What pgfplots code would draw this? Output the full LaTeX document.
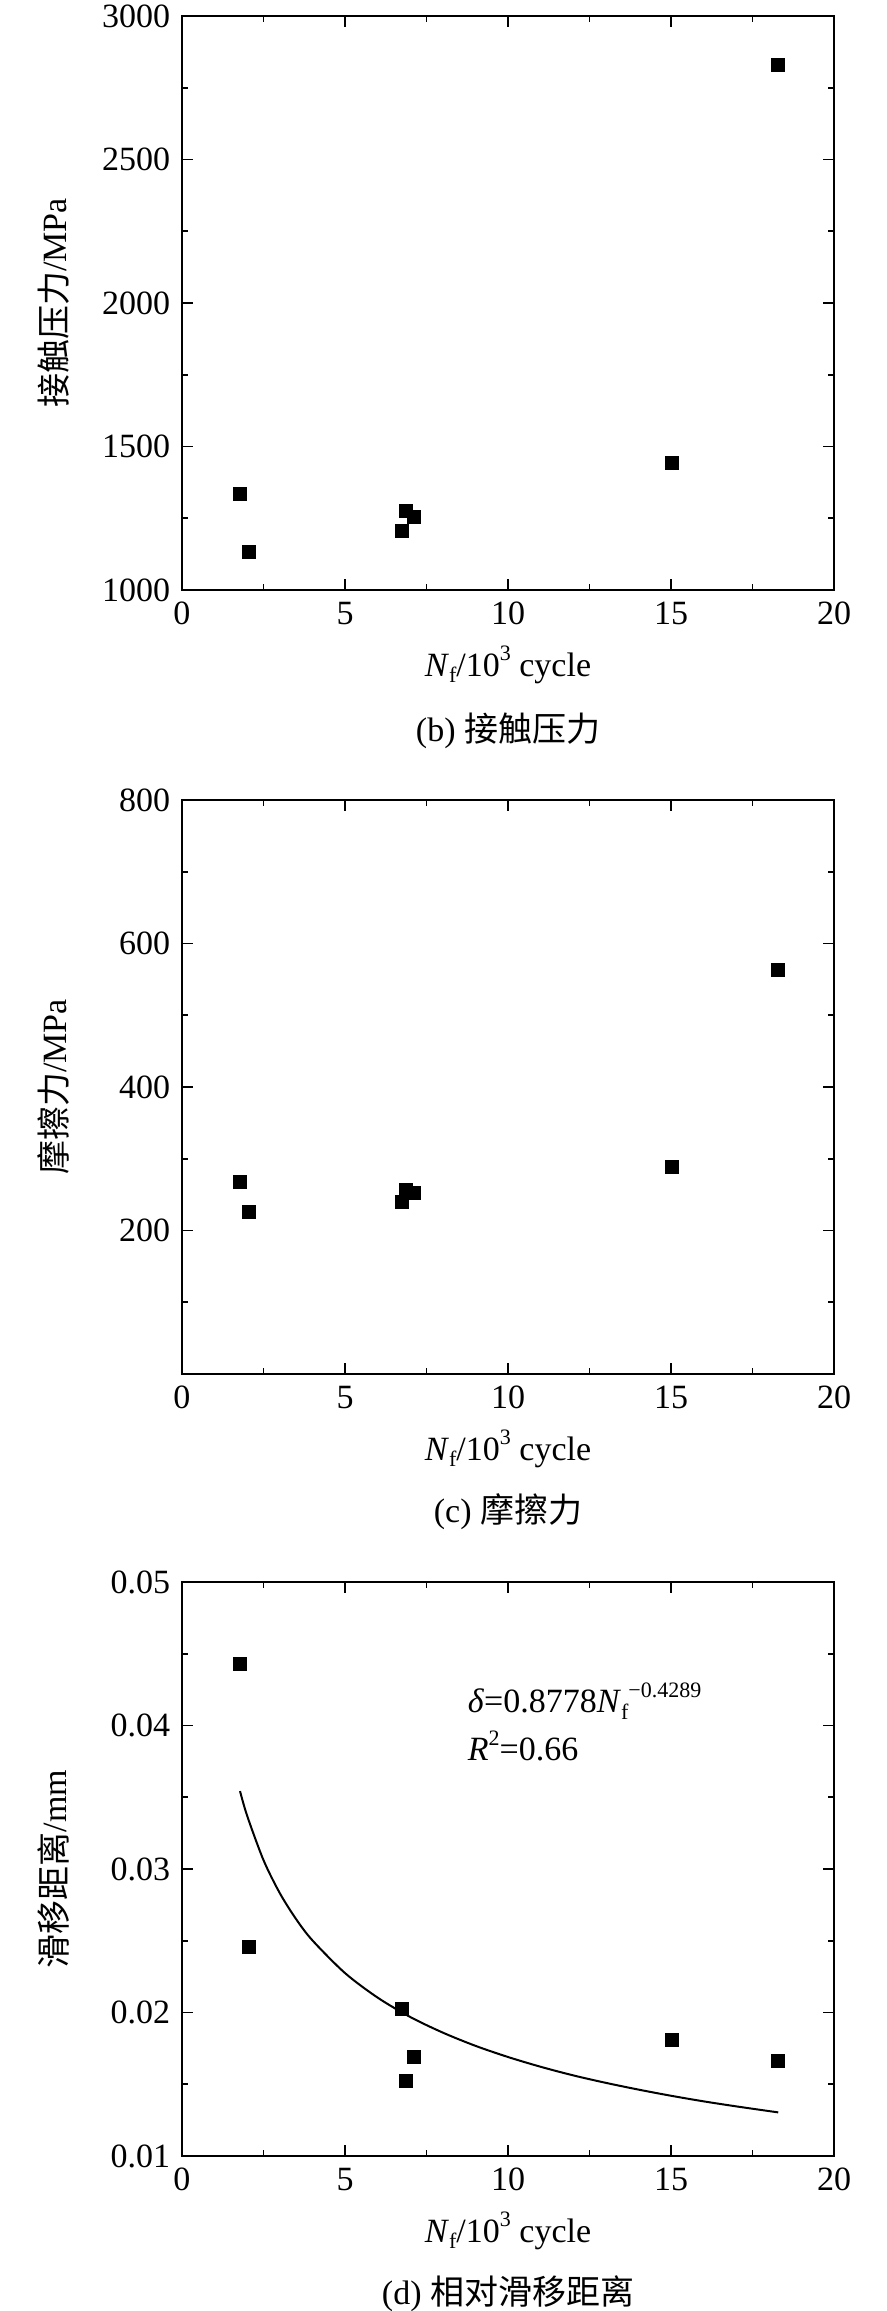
\documentclass[border=0pt]{standalone}
\usepackage{fontspec}
\setmainfont{Liberation Serif}
\newfontfamily\cjk{Noto Sans CJK SC}
\usepackage{pgfplots}
\pgfplotsset{compat=1.18}
\newcommand{\sups}[1]{\raisebox{0.45em}{\fontsize{6.6}{7}\selectfont #1}}
\newcommand{\subs}[1]{\raisebox{-0.2em}{\fontsize{6.6}{7}\selectfont #1}}
\pgfplotsset{
  myax/.style={
    scale only axis, width=195.6pt, height=172.2pt, anchor=north west,
    xmin=0, xmax=20, xtick={0,5,10,15,20}, minor x tick num=1,
    tick align=inside, major tick length=3.4pt, minor tick length=1.8pt,
    axis line style={line width=0.5pt},
    every tick/.style={black, line width=0.5pt},
    tick label style={font=\fontsize{10.2}{12}\selectfont},
    /pgf/number format/assume math mode=true,
    /pgf/number format/1000 sep={},
    scaled y ticks=false,
    xlabel={\textit{N}\subs{f}/10\sups{3} cycle},
    xlabel style={at={(axis description cs:0.5,-0.150)}, anchor=base, font=\fontsize{10.2}{12}\selectfont},
    ylabel style={at={(axis description cs:-0.1963,0.5)}, anchor=center, font=\fontsize{10.2}{12}\selectfont},
    clip=false,
  },
  pts/.style={only marks, mark=square*, mark size=1.9pt, black},
}
\begin{document}
\begin{tikzpicture}
\useasboundingbox (0,0) rectangle (265.8pt,-693.3pt);
% (b)
\begin{axis}[myax, at={(54.6pt,-4.8pt)},
  ymin=1000, ymax=3000, ytick={1000,1500,2000,2500,3000}, minor y tick num=1,
  ylabel={{\cjk 接触压力}/MPa}]
\addplot[pts] coordinates {(1.78,1335) (2.06,1133) (6.74,1204) (6.88,1276) (7.13,1256) (15.02,1444) (18.29,2828)};
\node[anchor=base, font=\fontsize{10.2}{12}\selectfont] at (axis description cs:0.5,-0.2640) {(b) {\cjk 接触压力}};
\end{axis}
% (c)
\begin{axis}[myax, at={(54.6pt,-240pt)},
  ymin=0, ymax=800, ytick={200,400,600,800}, minor ytick={100,300,500,700},
  ylabel={{\cjk 摩擦力}/MPa}]
\addplot[pts] coordinates {(1.78,267) (2.06,226) (6.74,240) (6.88,256) (7.13,252) (15.02,289) (18.29,563)};
\node[anchor=base, font=\fontsize{10.2}{12}\selectfont] at (axis description cs:0.5,-0.2580) {(c) {\cjk 摩擦力}};
\end{axis}
% (d)
\begin{axis}[myax, at={(54.6pt,-474.6pt)},
  ymin=0.01, ymax=0.05, ytick={0.01,0.02,0.03,0.04,0.05}, minor y tick num=1,
  y tick label style={/pgf/number format/fixed, /pgf/number format/fixed zerofill, /pgf/number format/precision=2},
  ylabel={{\cjk 滑移距离}/mm}]
\addplot[pts] coordinates {(1.78,0.04426) (2.06,0.02460) (6.74,0.02025) (6.88,0.01526) (7.13,0.01693) (15.02,0.01812) (18.29,0.01659)};
\addplot[black, line width=0.6pt, smooth, mark=none] coordinates {
(1.78,0.03543) (2,0.03370) (2.5,0.03062) (3,0.02832) (3.5,0.02651) (4,0.02503)
(5,0.02275) (6,0.02104) (7,0.01969) (8,0.01860) (9,0.01768) (10,0.01690)
(11,0.01622) (12,0.01562) (13,0.01510) (14,0.01463) (15,0.01420) (16,0.01381)
(17,0.01346) (18.29,0.01304)};
\node[anchor=base west, font=\fontsize{10.2}{12}\selectfont, inner sep=0pt] at (axis cs:8.75,0.0409) {\textit{δ}=0.8778\textit{N}\subs{f}\sups{−0.4289}};
\node[anchor=base west, font=\fontsize{10.2}{12}\selectfont, inner sep=0pt] at (axis cs:8.75,0.03757) {\textit{R}\sups{2}=0.66};
\node[anchor=base, font=\fontsize{10.2}{12}\selectfont] at (axis description cs:0.5,-0.2580) {(d) {\cjk 相对滑移距离}};
\end{axis}
\end{tikzpicture}
\end{document}
